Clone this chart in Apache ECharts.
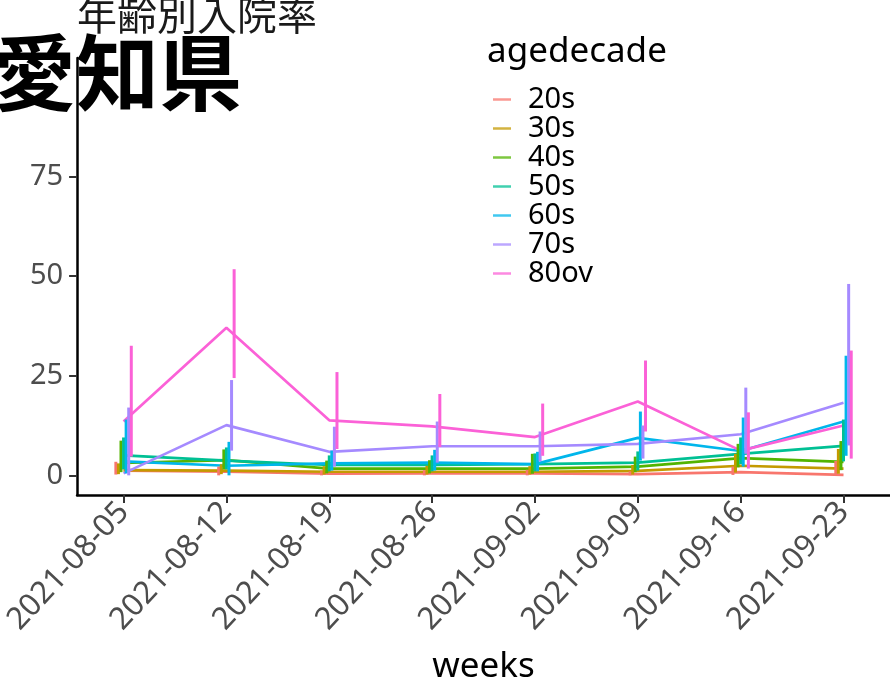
<!DOCTYPE html>
<html><head><meta charset="utf-8">
<script src="https://cdn.jsdelivr.net/npm/echarts@6/dist/echarts.min.js"></script>
<style>html,body{margin:0;padding:0;background:#fff}#c{width:890px;height:690px}</style>
</head><body><div id="c"></div>
<script>
const weeks = ['2021-08-05','2021-08-12','2021-08-19','2021-08-26','2021-09-02','2021-09-09','2021-09-16','2021-09-23'];
const ageGroups = ['20s','30s','40s','50s','60s','70s','80ov'];
const yTicks = [0, 25, 50, 75];

const rate20s = [1.2, 0.9, 0.4, 0.5, 0.5, 0.3, 0.8, 0.1];
const low20s  = [0.2, 0.0, 0.0, 0.0, 0.0, 0.0, 0.1, 0.0];
const high20s = [3.4, 2.2, 1.2, 1.3, 1.4, 1.0, 2.2, 3.6];

const rate30s = [1.3, 1.2, 0.9, 0.9, 0.9, 1.1, 2.4, 1.7];
const low30s  = [0.3, 0.3, 0.2, 0.2, 0.2, 0.2, 0.7, 0.4];
const high30s = [3.0, 2.8, 2.3, 2.4, 2.3, 2.6, 5.4, 6.6];

const rate40s = [3.1, 3.8, 1.7, 1.7, 1.7, 2.2, 4.3, 3.4];
const low40s  = [0.8, 1.5, 0.5, 0.5, 0.4, 0.8, 2.0, 1.3];
const high40s = [8.7, 6.5, 3.7, 3.8, 5.4, 4.7, 7.9, 8.6];

const rate50s = [5.0, 3.7, 2.6, 2.6, 2.8, 3.2, 5.4, 7.4];
const low50s  = [1.5, 1.5, 1.0, 1.0, 1.0, 1.2, 2.8, 3.5];
const high50s = [9.5, 7.0, 5.0, 5.0, 5.5, 6.0, 9.5, 14.0];

const rate60s = [3.5, 2.4, 3.0, 3.2, 2.8, 9.4, 6.1, 13.5];
const low60s  = [0.5, 0.0, 1.2, 1.2, 1.0, 3.7, 2.2, 4.9];
const high60s = [14.0, 8.4, 6.2, 6.4, 5.9, 16.0, 14.5, 30.0];

const rate70s = [0.5, 12.6, 5.9, 7.3, 7.3, 7.9, 10.3, 18.2];
const low70s  = [0.0, 6.2, 2.2, 3.2, 3.5, 4.2, 5.4, 7.5];
const high70s = [17.0, 23.9, 12.2, 13.5, 11.0, 12.5, 22.0, 48.0];

const rate80ov = [13.5, 37.0, 13.8, 12.3, 9.6, 18.5, 6.2, 12.5];
const low80ov  = [4.7, 24.4, 6.6, 7.1, 4.9, 11.0, 1.7, 4.2];
const high80ov = [32.5, 51.7, 25.9, 20.4, 18.0, 28.8, 15.8, 31.3];

const rates = [rate20s, rate30s, rate40s, rate50s, rate60s, rate70s, rate80ov];
const lows  = [low20s, low30s, low40s, low50s, low60s, low70s, low80ov];
const highs = [high20s, high30s, high40s, high50s, high60s, high70s, high80ov];

const colors = ['#F8766D','#C49A00','#53B400','#00C094','#00B6EB','#A58AFF','#FB61D7'];
const dodge = 0.025;
const idx = weeks.map((w, j) => j);

const lineSeries = ageGroups.map((g, i) => ({
  name: g, type: 'line', symbol: 'none', silent: true,
  color: colors[i],
  lineStyle: { width: 2.7, color: colors[i] },
  data: weeks.map((w, j) => [j, rates[i][j]]),
  z: 2
}));

const barSeries = ageGroups.map((g, i) => ({
  name: g + '_err', type: 'custom', silent: true,
  data: weeks.map((w, j) => [j + (i - 3) * dodge, lows[i][j], highs[i][j]]),
  encode: { x: 0, y: [1, 2] },
  renderItem: function (params, api) {
    const x = api.value(0);
    const p1 = api.coord([x, api.value(1)]);
    const p2 = api.coord([x, api.value(2)]);
    return { type: 'line', shape: { x1: p1[0], y1: p1[1], x2: p2[0], y2: p2[1] },
      style: { stroke: colors[i], lineWidth: 3 } };
  },
  z: 3
}));

const chart = echarts.init(document.getElementById('c'), null, { renderer: 'canvas' });
chart.setOption({
  backgroundColor: '#fff',
  animation: false,
  title: {
    text: '年齢別入院率', left: 72, top: -10,
    textStyle: { fontSize: 40, fontWeight: 'normal', color: '#1a1a1a', fontFamily: 'Noto Sans CJK JP' }
  },
  grid: { left: 73, top: 58, width: 820, height: 444, containLabel: false },
  xAxis: {
    type: 'value', min: -0.452, max: 7.452,
    name: 'weeks', nameLocation: 'middle', nameGap: 155,
    nameTextStyle: { fontSize: 35, color: '#000', fontFamily: 'Noto Sans' },
    splitLine: { show: false },
    axisLine: { show: true, onZero: false, lineStyle: { color: '#000', width: 2.5 } },
    axisTick: { show: true, customValues: idx, length: 8, lineStyle: { color: '#333', width: 2 } },
    axisLabel: {
      customValues: idx, rotate: 47, fontSize: 31, color: '#4D4D4D', fontFamily: 'Noto Sans', margin: 12,
      formatter: v => weeks[Math.round(v)]
    }
  },
  yAxis: {
    type: 'value', min: -4.93, max: 104.67,
    splitLine: { show: false },
    axisLine: { show: true, onZero: false, lineStyle: { color: '#000', width: 2.5 } },
    axisTick: { show: true, customValues: yTicks, length: 8, lineStyle: { color: '#333', width: 2 } },
    axisLabel: { customValues: yTicks, fontSize: 29, color: '#4D4D4D', fontFamily: 'Noto Sans', margin: 14 }
  },
  legend: {
    data: ageGroups, orient: 'vertical', left: 488, top: 80,
    icon: 'rect', itemWidth: 18, itemHeight: 2.5, itemGap: 0, selectedMode: false,
    itemStyle: { opacity: 0.75 },
    textStyle: { fontSize: 29, color: '#000', fontFamily: 'Noto Sans', lineHeight: 27.3, padding: [0, 0, 0, 12] }
  },
  graphic: [
    { type: 'text', left: 487, top: 35, style: { text: 'agedecade', fontSize: 35, fill: '#000', fontFamily: 'Noto Sans' }, z: 10 },
    { type: 'text', left: -7, top: 31, style: { text: '愛知県', fontSize: 83, fontWeight: 'bold', fill: '#000', fontFamily: 'Noto Sans CJK JP' }, z: 10 }
  ],
  series: lineSeries.concat(barSeries)
});
</script></body></html>
